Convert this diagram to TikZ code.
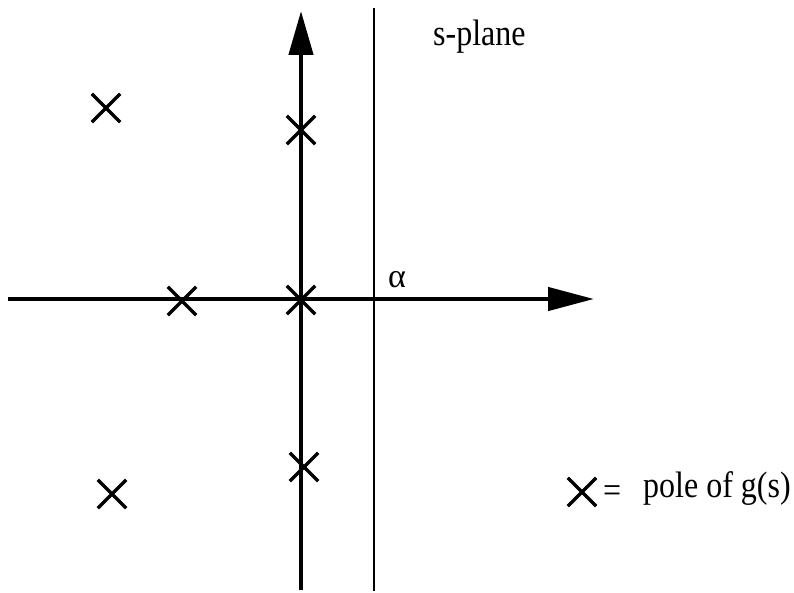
\documentclass[tikz,border=0pt]{standalone}
\usepackage{fontspec}
\setmainfont{Liberation Serif}
\usetikzlibrary{arrows.meta,shapes.misc}
\tikzset{
  pole/.style={cross out, draw, line width=3.4pt, minimum size=25pt, inner sep=0pt},
  axis/.style={line width=4.5pt},
  thinline/.style={line width=2pt},
  lbl/.style={font=\fontsize{32}{36}\selectfont, inner sep=0pt, anchor=base west, yscale=1.15}
}
\begin{document}
\begin{tikzpicture}[x=1pt,y=-1pt]
\useasboundingbox (0,0) rectangle (794,593);
% axes
\coordinate (xl) at (8,299);
\coordinate (xr) at (594,299);
\coordinate (yb) at (301,590);
\coordinate (yt) at (301,11);
\coordinate (vt) at (374,8);
\coordinate (vb) at (374,591);
\draw[axis,-{Triangle[length=46pt,width=23pt]}] (xl) -- (xr);
\draw[axis,-{Triangle[length=44pt,width=24pt]}] (yb) -- (yt);
\draw[thinline] (vt) -- (vb);
% poles
\node[pole] (p1) at (106,108) {};
\node[pole] (p2) at (301,130) {};
\node[pole] (p3) at (182,301) {};
\node[pole] (p4) at (301,300) {};
\node[pole] (p5) at (304,467) {};
\node[pole] (p6) at (112,494) {};
\node[pole] (p7) at (582,492) {};
% labels
\node[lbl] (sp) at (433,46) {s-plane};
\node[lbl,font=\fontsize{34}{38}\selectfont,yscale=0.87] (al) at (388,288) {α};
\node[lbl] (eq) at (603,502) {=};
\node[lbl] (lg) at (643,497) {pole of g(s)};
\end{tikzpicture}
\end{document}
